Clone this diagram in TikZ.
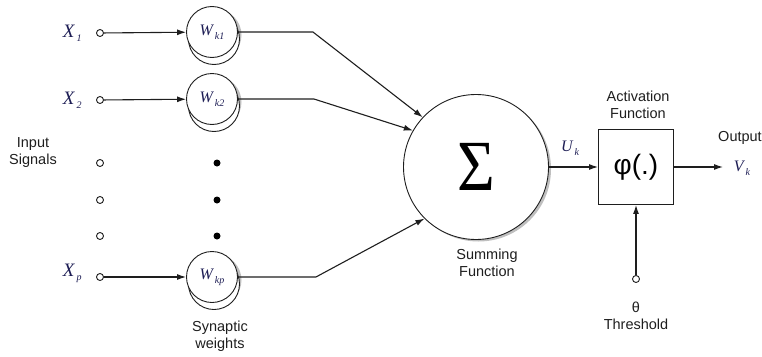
\documentclass[tikz,border=0pt]{standalone}
\usepackage{fontspec}
\setmainfont{Liberation Sans}
\newfontfamily\tmsfont{Liberation Serif}
\usetikzlibrary{positioning,arrows.meta,shadows}
\definecolor{LblNavy}{RGB}{30,30,85}
\definecolor{InkGrey}{RGB}{30,30,30}
\newcommand{\sublbl}[3][16]{{\color{LblNavy}\tmsfont\itshape\fontsize{#1}{#1}\selectfont #2\hspace{2pt}\raisebox{-4pt}{\fontsize{10}{10}\selectfont #3}}}

\begin{document}
\begin{tikzpicture}[
x=1pt,y=-1pt,
node distance=12pt,
port/.style={circle,draw=InkGrey,fill=white,line width=0.9pt,inner sep=0pt,minimum size=7pt},
blob/.style={circle,fill=black,inner sep=0pt,minimum size=7pt},
wgt/.style={circle,draw=InkGrey,fill=white,line width=0.9pt,minimum size=51pt,inner sep=0pt,
  drop shadow={shadow xshift=4pt,shadow yshift=-3pt,opacity=0.25,fill=black},
  copy shadow={shadow xshift=2pt,shadow yshift=-7pt}},
summer/.style={circle,draw=InkGrey,fill=white,line width=0.9pt,minimum size=145pt,inner sep=0pt,
  drop shadow={shadow xshift=2.5pt,shadow yshift=-2pt,opacity=0.25,fill=black}},
actbox/.style={draw=InkGrey,fill=white,line width=0.9pt,minimum size=75pt,inner sep=0pt},
txt/.style={font=\fontsize{14.5}{17}\selectfont,align=center,text=InkGrey},
arr/.style={draw=InkGrey,line width=1.1pt,-{Latex[length=9pt,width=6pt]}}
]
\useasboundingbox (0,0) rectangle (762,356);

% inputs
\node[port] (in1) at (100,33) {};
\node[port] (in2) at (100,100) {};
\node[port] (in3) at (100,163) {};
\node[port] (in4) at (100,200) {};
\node[port] (in5) at (100,236) {};
\node[port] (inp) at (100,277) {};
\node[left=11pt of in1] (x1) {\sublbl[19]{X}{1}};
\node[left=11pt of in2] (x2) {\sublbl[19]{X}{2}};
\node[left=11pt of inp,yshift=4pt] (xp) {\sublbl[19]{X}{p}};
\node[txt] (insig) at (33,153) {Input\\Signals};

% synaptic weights
\node[wgt] (w1) at (212,32) {\sublbl{W}{k1}};
\node[wgt] (w2) at (212,99) {\sublbl{W}{k2}};
\node[wgt] (wp) at (212,277) {\sublbl{W}{kp}};
\node[blob] (d1) at (217,163) {};
\node[blob] (d2) at (217,200) {};
\node[blob] (d3) at (217,236) {};
\node[txt] (synw) at (220,336) {Synaptic\\weights};

\draw[arr] (in1) -- (w1);
\draw[arr] (in2) -- (w2);
\draw[arr] (inp) -- (wp);

% summing junction
\node[summer] (sum) at (476,167) {\tmsfont\fontsize{72}{72}\selectfont\scalebox{0.9}[1]{Σ}};
\node[txt] (sumlbl) at (487,263) {Summing\\Function};

\draw[arr] (w1.east) -- ++(75,0) -- (sum.137);
\draw[arr] (w2.east) -- ++(76,0) -- (sum.150);
\draw[arr] (wp.east) -- ++(78,0) -- (sum.225);

% activation
\node[actbox] (act) at (636,167) {\fontsize{28}{28}\selectfont φ(.)};
\node[txt] (actlbl) at (638,105) {Activation\\Function};
\node (uk) at (570,148) {\sublbl{U}{k}};
\draw[arr] (sum) -- (act);

\node[port] (thr) at (636,279) {};
\node[txt] (thrlbl) at (636,316) {θ\\Threshold};
\draw[arr] (thr) -- (act);

% output
\coordinate (out) at (723,167);
\draw[arr] (act) -- (out);
\node[txt] (outlbl) at (740,138) {Output};
\node (vk) at (742,168) {\sublbl{V}{k}};
\end{tikzpicture}
\end{document}
